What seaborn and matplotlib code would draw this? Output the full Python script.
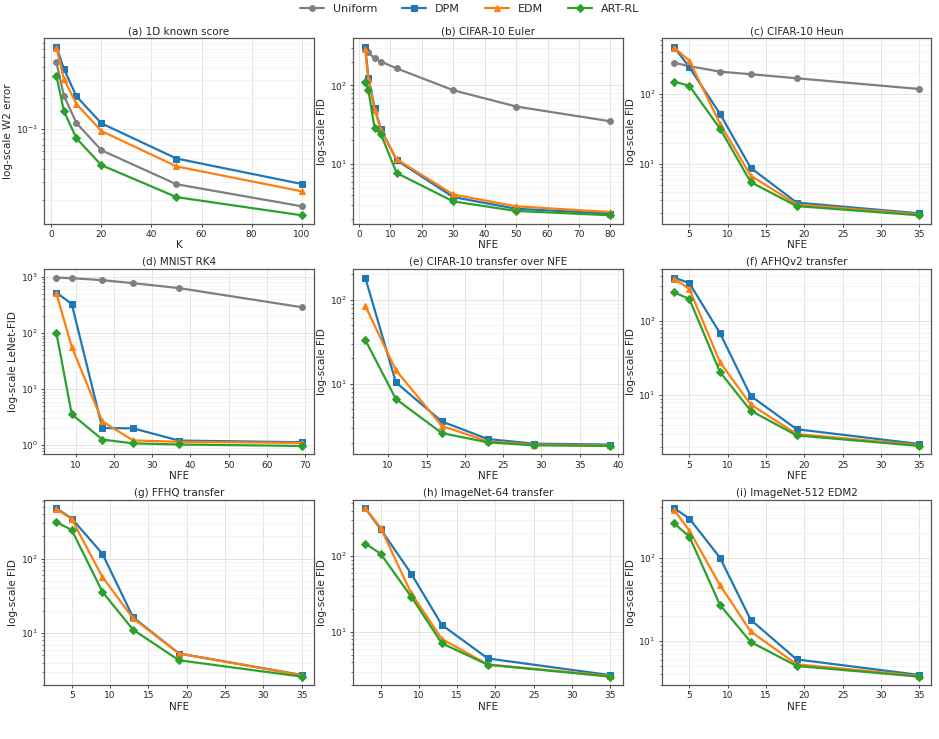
import numpy as np
import pandas as pd
import matplotlib
matplotlib.use("Agg")
import matplotlib.pyplot as plt
import seaborn as sns

methods = ["Uniform", "DPM", "EDM", "ART-RL"]
colors = {"Uniform": "#7f7f7f", "DPM": "#1f77b4", "EDM": "#ff7f0e", "ART-RL": "#2ca02c"}
markers = {"Uniform": "o", "DPM": "s", "EDM": "^", "ART-RL": "D"}

# (a) 1D known score
a_x = [2, 5, 10, 20, 50, 100]
a_uniform = [0.447, 0.211, 0.114, 0.0616, 0.0286, 0.0174]
a_dpm = [0.635, 0.386, 0.208, 0.113, 0.0511, 0.0288]
a_edm = [0.62, 0.308, 0.175, 0.095, 0.0428, 0.0244]
a_art = [0.332, 0.149, 0.0806, 0.044, 0.0214, 0.0142]

# (b) CIFAR-10 Euler
b_x = [2, 3, 5, 7, 12, 30, 50, 80]
b_uniform = [290, 263, 221, 201, 165, 87, 54, 35]
b_dpm = [310, 126, 52, 27.6, 11.2, 3.8, 2.7, 2.34]
b_edm = [290, 121, 49, 27, 11.5, 4.1, 2.9, 2.45]
b_art = [111, 88, 28.5, 23.9, 7.7, 3.35, 2.53, 2.23]

# (c) CIFAR-10 Heun
c_x = [3, 5, 9, 13, 19, 35]
c_uniform = [281, 250, 209, 192, 168, 118]
c_dpm = [473, 241, 52, 8.8, 2.8, 1.96]
c_edm = [462, 299, 37.6, 6.8, 2.63, 1.9]
c_art = [151, 131, 32, 5.5, 2.49, 1.84]

# (d) MNIST RK4
d_x = [5, 9, 17, 25, 37, 69]
d_uniform = [973, 947, 873, 773, 631, 288]
d_dpm = [522, 330, 2.02, 2.0, 1.21, 1.13]
d_edm = [510, 56.6, 2.65, 1.22, 1.15, 1.1]
d_art = [100, 3.57, 1.26, 1.08, 1.03, 0.97]

# (e) CIFAR-10 transfer over NFE
e_x = [7, 11, 17, 23, 29, 39]
e_dpm = [184, 10.4, 3.56, 2.2, 1.94, 1.89]
e_edm = [85, 14.5, 3.16, 2.06, 1.89, 1.85]
e_art = [33.4, 6.6, 2.59, 2.01, 1.85, 1.82]

# (f) AFHQv2 transfer
f_x = [3, 5, 9, 13, 19, 35]
f_dpm = [386, 324, 68.5, 9.8, 3.48, 2.2]
f_edm = [374, 270, 27.8, 7.5, 3.0, 2.13]
f_art = [243, 199, 20.5, 6.2, 2.87, 2.07]

# (g) FFHQ transfer
g_x = [3, 5, 9, 13, 19, 35]
g_dpm = [479, 348, 117, 16.3, 5.3, 2.73]
g_edm = [468, 341, 57, 15.8, 5.3, 2.7]
g_art = [311, 244, 36, 11.1, 4.3, 2.59]

# (h) ImageNet-64 transfer
h_x = [3, 5, 9, 13, 19, 35]
h_dpm = [430, 228, 59, 12.4, 4.48, 2.7]
h_edm = [430, 238, 32.5, 8.1, 3.73, 2.64]
h_art = [147, 108, 29.3, 7.1, 3.7, 2.58]

# (i) ImageNet-512 EDM2
i_x = [3, 5, 9, 13, 19, 35]
i_dpm = [392, 295, 100, 18.1, 6.06, 3.95]
i_edm = [374, 211, 47, 13.1, 5.3, 3.85]
i_art = [258, 179, 27.2, 9.8, 5.06, 3.77]

titles = ["(a) 1D known score", "(b) CIFAR-10 Euler", "(c) CIFAR-10 Heun",
          "(d) MNIST RK4", "(e) CIFAR-10 transfer over NFE", "(f) AFHQv2 transfer",
          "(g) FFHQ transfer", "(h) ImageNet-64 transfer", "(i) ImageNet-512 EDM2"]
xlabels = ["K"] + ["NFE"] * 8
ylabels = ["log-scale W2 error", "log-scale FID", "log-scale FID",
           "log-scale LeNet-FID", "log-scale FID", "log-scale FID",
           "log-scale FID", "log-scale FID", "log-scale FID"]

panels = [
    (a_x, {"Uniform": a_uniform, "DPM": a_dpm, "EDM": a_edm, "ART-RL": a_art}),
    (b_x, {"Uniform": b_uniform, "DPM": b_dpm, "EDM": b_edm, "ART-RL": b_art}),
    (c_x, {"Uniform": c_uniform, "DPM": c_dpm, "EDM": c_edm, "ART-RL": c_art}),
    (d_x, {"Uniform": d_uniform, "DPM": d_dpm, "EDM": d_edm, "ART-RL": d_art}),
    (e_x, {"DPM": e_dpm, "EDM": e_edm, "ART-RL": e_art}),
    (f_x, {"DPM": f_dpm, "EDM": f_edm, "ART-RL": f_art}),
    (g_x, {"DPM": g_dpm, "EDM": g_edm, "ART-RL": g_art}),
    (h_x, {"DPM": h_dpm, "EDM": h_edm, "ART-RL": h_art}),
    (i_x, {"DPM": i_dpm, "EDM": i_edm, "ART-RL": i_art}),
]

sns.set_style("ticks")
plt.rcParams["font.family"] = ["DejaVu Sans"]

fig, axes = plt.subplots(3, 3, figsize=(9.39, 7.39), dpi=100)
fig.subplots_adjust(left=0.047, right=0.992, top=0.948, bottom=0.073,
                    wspace=0.145, hspace=0.245)

handles = {}
for idx, (ax, (xs, series)) in enumerate(zip(axes.flat, panels)):
    rows = []
    for m, vals in series.items():
        for x, v in zip(xs, vals):
            rows.append({"x": x, "y": v, "method": m})
    df = pd.DataFrame(rows)
    for m in methods:
        if m not in series:
            continue
        sub = df[df["method"] == m]
        sns.lineplot(data=sub, x="x", y="y", ax=ax, color=colors[m],
                     marker=markers[m], markersize=4.2 if m != "ART-RL" else 3.8,
                     linewidth=1.6, markeredgecolor=colors[m], label=m, legend=False)
    ax.set_yscale("log")
    ax.grid(True, which="major", color="#e4e4e4", linewidth=0.7)
    ax.grid(True, which="minor", color="#f0f0f0", linewidth=0.5)
    ax.set_axisbelow(True)
    ax.set_title(titles[idx], fontsize=7.5, pad=3)
    ax.set_xlabel(xlabels[idx], fontsize=7.5, labelpad=1)
    ax.set_ylabel(ylabels[idx], fontsize=7.5, labelpad=2)
    ax.tick_params(axis="both", which="major", labelsize=6.5, length=2.5,
                   width=0.7, color="#444444", pad=2)
    ax.tick_params(axis="both", which="minor", length=1.5, width=0.5, color="#444444")
    for s in ax.spines.values():
        s.set_color("#555555")
        s.set_linewidth(0.9)
    for line in ax.get_lines():
        lab = line.get_label()
        if lab in methods and lab not in handles:
            handles[lab] = line

fig.legend([handles[m] for m in methods], methods, loc="upper center",
           bbox_to_anchor=(0.5, 1.008), ncol=4, frameon=False, fontsize=8,
           columnspacing=2.2, handlelength=2.2)

fig.savefig("out.png", dpi=100)
